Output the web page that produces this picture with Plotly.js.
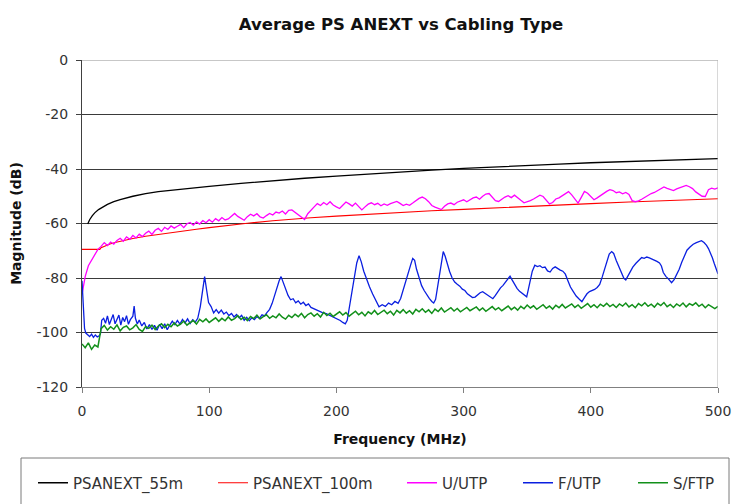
<!DOCTYPE html>
<html>
<head>
<meta charset="utf-8">
<script src="https://cdn.plot.ly/plotly-3.0.1.min.js"></script>
<style>html,body{margin:0;padding:0;background:#fff;}#chart{width:732px;height:504px;}</style>
</head>
<body>
<div id="chart"></div>
<script>
// ---- data ----
const seriesNames = ["PSANEXT_55m", "PSANEXT_100m", "U/UTP", "F/UTP", "S/FTP"];

const psanext55Freq = [4.5,6,8,10,13,16,20,25,30,40,50,60,75,90,100,125,150,175,200,225,250,275,300,325,350,375,400,425,450,475,500];
const psanext55Db = [-60.2,-58.6,-57.2,-56.1,-54.9,-54.0,-53.0,-52.0,-51.2,-50.0,-49.0,-48.3,-47.5,-46.8,-46.4,-45.3,-44.3,-43.4,-42.6,-41.8,-41.1,-40.4,-39.8,-39.2,-38.7,-38.2,-37.7,-37.3,-36.9,-36.5,-36.2];

const psanext100Freq = [0,14,15,18,22,26,30,35,40,50,60,75,90,100,115,130,150,165,180,200,225,250,275,300,330,360,400,430,460,500];
const psanext100Db = [-69.5,-69.5,-68.9,-68.2,-67.5,-67.0,-66.5,-66.0,-65.5,-64.7,-64.0,-63.0,-62.1,-61.5,-60.6,-59.9,-59.0,-58.4,-57.9,-57.3,-56.6,-55.9,-55.3,-54.8,-54.1,-53.5,-52.7,-52.1,-51.6,-50.9];

// U/UTP, sampled every 2.5 MHz from 0 MHz
const uutpStep = 2.5;
const uutpDb = [-86,-79.5,-75.5,-73.6,-71.2,-69.5,-68.4,-67.0,-68.1,-66.8,-67.6,-66.2,-65.4,-66.5,-64.9,-65.8,-64.4,-65.3,-63.9,-64.8,
-63.6,-62.8,-64.0,-62.5,-61.8,-62.9,-61.4,-62.2,-60.9,-61.7,-61.0,-60.3,-61.5,-60.1,-59.6,-60.6,-59.4,-60.2,-58.9,-59.7,
-58.6,-59.5,-58.2,-59.0,-57.8,-58.7,-58.3,-57.2,-56.3,-57.4,-58.1,-58.8,-57.5,-56.6,-57.2,-56.4,-57.6,-58.0,-57.1,-56.3,
-56.9,-55.8,-56.2,-55.4,-56.5,-55.2,-55.0,-55.9,-56.8,-57.9,-58.5,-56.4,-55.3,-53.9,-52.7,-53.4,-52.3,-53.1,-52.0,-53.2,
-53.9,-54.5,-53.3,-52.1,-52.8,-53.6,-52.5,-53.8,-55.0,-53.9,-52.9,-52.4,-53.1,-52.6,-53.5,-52.8,-53.3,-52.7,-52.2,-51.9,
-52.6,-53.4,-52.9,-53.3,-52.5,-51.6,-50.8,-50.3,-50.9,-52.0,-53.4,-54.0,-54.6,-54.9,-53.7,-52.8,-52.5,-53.1,-52.2,-51.7,
-51.3,-52.0,-51.2,-50.6,-50.3,-51.1,-50.0,-49.2,-49.0,-50.4,-51.6,-51.9,-51.0,-50.3,-49.8,-50.5,-49.6,-50.4,-51.5,-52.4,
-52.1,-51.6,-51.0,-50.2,-49.6,-50.1,-51.3,-52.8,-52.3,-51.0,-50.6,-49.8,-49.0,-48.3,-49.5,-51.2,-52.5,-50.4,-48.2,-48.9,
-50.1,-51.3,-50.6,-49.7,-48.9,-48.2,-47.6,-47.9,-48.7,-48.4,-49.1,-48.6,-49.3,-51.6,-52.0,-51.7,-51.1,-50.3,-49.6,-49.0,
-48.6,-47.9,-47.0,-46.6,-47.1,-47.5,-47.9,-47.3,-46.8,-46.3,-46.0,-46.5,-47.2,-48.4,-49.3,-50.0,-50.1,-47.6,-47.0,-47.4,
-46.9];

const futpFreq = [0,0.5,1,2,3,4.5,6,7.5,9,10.5,12,13.5,14.5,15.5,17,18.5,20,21.5,23,24.5,26,27.5,29,30.5,32,33.5,35,36.5,38,40,41,42,43.5,45,47,49,51,53,55,57,59,61,63,65,67,69,71,73,75,77,79,81,83,85,87,89,91,93,94.5,96.4,98,99.5,101.5,103.5,105.5,107.5,109.5,111.5,113.5,115.5,117.5,119.5,121.5,123.5,125.5,127.5,129.5,131.5,133.5,135.5,137.5,139.5,141.5,143.5,145.5,147.5,149.5,151.5,153.5,155,156.5,158,160,162,164,166,168,170,172,174,176,178,180,183,186,189,192,195,198,201,203,205,207,208.5,210,212,214,216,217.8,219.5,221.5,223.5,226,228.5,231,233.5,236,238.5,241,243.5,246,248.5,250.5,252.5,254.5,256.5,258.5,260,261.5,263,265,267,269,271,273,275,276.5,278,279.5,281,282.5,284,285.5,287,289,291,293,295,297,299,301,303,305,307,309,311,313,315,317,319,321,323,325,327,329,331,333,335,336.5,338,340,342,344,346,348,349.6,351,352.5,354,356,358,360,362,364,366,368,370,372,374,376,378,380,382,384,386,388.5,391,393,395,397,399,401,403,405,407,409,411,413,414.5,416.4,418,420,422,424,426,427.5,429,431,433,435.5,438,440,442,444,446,448,450,452,454,455.5,457,459,461,463.5,465.5,467.5,469.5,471.5,473.5,475.6,478,480.5,483,485,487,489,491,492.5,494,495.5,497,498.5,500];
const futpDb = [-81,-86,-93,-98.5,-100.2,-100.8,-101.5,-100.6,-101.8,-100.9,-101.6,-101.2,-100.5,-95.5,-94.8,-96.6,-93.9,-97.1,-95.2,-93.4,-96.8,-95.0,-93.6,-97.3,-94.5,-96.0,-93.8,-97.0,-95.3,-94.0,-90.3,-94.8,-96.9,-95.4,-97.6,-96.3,-98.7,-97.1,-98.9,-97.4,-99.2,-97.0,-98.6,-96.8,-99.0,-97.3,-95.8,-97.1,-95.6,-96.9,-95.2,-96.5,-95.0,-96.7,-95.3,-96.2,-94.8,-90.5,-85.0,-79.5,-84.5,-89.0,-90.5,-92.8,-91.6,-92.9,-91.8,-93.2,-92.5,-93.8,-93.0,-94.3,-93.4,-94.6,-93.7,-95.5,-94.4,-95.7,-94.6,-95.3,-94.2,-94.8,-93.5,-93.9,-92.6,-91.5,-89.3,-86.0,-83.2,-81.0,-79.5,-81.5,-84.2,-86.4,-88.0,-87.6,-89.1,-88.4,-89.6,-88.9,-90.1,-89.5,-90.8,-91.5,-92.0,-92.7,-93.1,-93.8,-94.2,-94.9,-95.6,-96.3,-96.8,-95.5,-91.5,-85.5,-79.5,-74.5,-71.8,-74.0,-77.5,-80.2,-83.2,-85.9,-88.3,-90.6,-89.8,-90.4,-89.2,-89.8,-88.6,-89.3,-87.5,-84.6,-81.3,-77.9,-75.0,-72.8,-73.5,-76.8,-80.3,-82.8,-84.6,-86.2,-87.5,-88.6,-89.2,-87.8,-83.5,-77.8,-73.2,-70.3,-72.0,-74.8,-77.6,-80.0,-81.5,-82.3,-83.0,-84.1,-84.6,-85.8,-86.4,-87.2,-87.0,-86.1,-85.4,-85.0,-85.6,-86.5,-87.0,-87.6,-86.4,-85.0,-83.6,-82.7,-81.6,-80.2,-79.3,-80.6,-82.4,-83.8,-84.9,-85.6,-86.3,-86.9,-84.0,-80.2,-77.5,-75.3,-75.8,-75.5,-76.2,-76.0,-77.4,-77.8,-76.5,-75.9,-76.6,-77.1,-77.5,-78.6,-81.0,-83.3,-84.8,-86.6,-87.8,-88.7,-87.2,-85.8,-85.0,-84.6,-84.2,-83.5,-82.4,-79.6,-76.2,-73.1,-71.2,-70.3,-71.0,-73.6,-76.0,-78.2,-80.1,-80.7,-79.5,-77.4,-76.0,-74.6,-73.3,-72.5,-72.8,-72.3,-72.6,-73.0,-73.2,-73.9,-74.5,-75.6,-78.0,-79.4,-80.3,-81.7,-80.6,-78.8,-76.8,-74.2,-71.9,-69.8,-68.6,-67.6,-67.0,-66.7,-66.3,-67.0,-68.0,-69.2,-70.6,-72.5,-74.6,-76.6,-78.5];

// S/FTP, sampled every 2.5 MHz from 0 MHz
const sftpStep = 2.5;
const sftpDb = [-104.2,-105.6,-103.8,-106.2,-104.6,-105.3,-98.6,-97.4,-99.1,-97.9,-98.8,-97.2,-99.4,-98.1,-97.6,-99.0,-98.3,-97.1,-98.9,-99.6,
-97.8,-98.5,-97.3,-98.9,-97.6,-96.8,-98.2,-97.0,-97.9,-96.5,-97.6,-96.9,-95.8,-97.3,-96.4,-95.6,-96.9,-95.2,-96.1,-95.0,
-96.3,-95.4,-94.6,-95.9,-94.8,-95.7,-94.3,-95.5,-94.9,-93.8,-95.2,-94.4,-95.6,-94.1,-94.9,-93.6,-95.0,-94.2,-93.5,-94.8,
-93.9,-94.6,-93.2,-94.4,-95.1,-93.7,-94.5,-93.3,-94.2,-93.0,-94.6,-93.4,-92.8,-94.0,-93.1,-94.3,-92.6,-93.8,-92.9,-94.1,
-93.3,-92.4,-93.6,-92.7,-94.0,-93.1,-92.2,-93.5,-92.6,-93.9,-92.4,-93.2,-91.9,-93.4,-92.5,-91.8,-93.1,-92.2,-93.6,-91.9,
-92.8,-91.6,-92.9,-92.0,-93.2,-91.5,-92.4,-91.3,-92.6,-91.7,-93.0,-91.4,-92.3,-91.0,-92.5,-91.6,-90.9,-92.1,-91.2,-92.4,
-91.5,-90.8,-92.0,-91.3,-90.6,-91.9,-91.0,-92.2,-91.4,-90.5,-91.7,-90.9,-92.0,-91.1,-90.3,-91.6,-90.7,-91.8,-90.4,-91.3,
-89.9,-91.0,-90.2,-91.5,-90.6,-89.8,-91.1,-90.3,-91.4,-90.0,-90.9,-89.7,-91.0,-90.2,-89.5,-90.8,-89.9,-91.1,-90.1,-89.4,
-90.7,-89.8,-90.9,-89.6,-90.4,-89.3,-90.5,-89.7,-90.8,-89.5,-90.3,-89.2,-90.6,-89.8,-90.9,-89.4,-90.2,-89.1,-90.4,-89.6,
-90.7,-89.3,-90.1,-89.0,-90.5,-89.7,-90.8,-89.5,-90.3,-89.2,-90.6,-89.4,-90.0,-89.1,-90.4,-89.6,-90.9,-89.8,-90.5,-91.2,
-90.4];

const xTickVals = [0,100,200,300,400,500];
const yTickVals = [-120,-100,-80,-60,-40,-20,0];

const seriesColors = ["#000000", "#ff0000", "#ff00ff", "#0a1fe0", "#12901a"];

// ---- build the figure ----
const uutpFreq = uutpDb.map((_, i) => i * uutpStep);
const sftpFreq = sftpDb.map((_, i) => i * sftpStep);

const xs = [psanext55Freq, psanext100Freq, uutpFreq, futpFreq, sftpFreq];
const ys = [psanext55Db, psanext100Db, uutpDb, futpDb, sftpDb];
const widths = [1.3, 1.1, 1.3, 1.3, 1.5];
const legendIds = ["legend", "legend2", "legend3", "legend4", "legend5"];
const legendLinePx = [38, 218, 407, 523, 638];

const PL = 82, PR = 718, PT = 60, PB = 387;
const px2paperX = p => (p - PL) / (PR - PL);
const px2paperY = p => (PB - p) / (PB - PT);

const traces = seriesNames.map((n, i) => ({
  type: "scatter", mode: "lines", name: n,
  x: xs[i], y: ys[i],
  line: {color: seriesColors[i], width: widths[i]},
  legend: legendIds[i], hoverinfo: "skip"
}));

const font = "DejaVu Sans, Liberation Sans, Arial, sans-serif";
const layout = {
  width: 732, height: 504,
  margin: {l: PL, r: 732 - PR, t: PT, b: 504 - PB, autoexpand: false},
  paper_bgcolor: "#ffffff", plot_bgcolor: "#ffffff",
  font: {family: font, color: "#222"},
  title: {text: "<b>Average PS ANEXT vs Cabling Type</b>", font: {size: 16.5, color: "#111", family: font},
          x: 401 / 732, xanchor: "center", y: 1 - 24 / 504, yanchor: "middle"},
  xaxis: {
    range: [0, 500], tickvals: xTickVals, ticktext: xTickVals.map(String),
    showgrid: false, zeroline: false, showline: true, linecolor: "#808080", linewidth: 1,
    ticks: "outside", ticklen: 5, tickcolor: "#808080", ticklabelstandoff: 6,
    tickfont: {size: 14, color: "#333"},
    title: {text: "<b>Frequency (MHz)</b>", font: {size: 14, color: "#111"}, standoff: 16}
  },
  yaxis: {
    range: [-120, 0], tickvals: yTickVals, ticktext: yTickVals.map(String),
    showgrid: true, gridcolor: "#3a3a3a", gridwidth: 1, zeroline: false,
    showline: true, linecolor: "#404040", linewidth: 1,
    ticks: "outside", ticklen: 5, tickcolor: "#404040", ticklabelstandoff: 5,
    tickfont: {size: 14, color: "#333"},
    title: {text: "<b>Magnitude (dB)</b>", font: {size: 14, color: "#111"}, standoff: 11}
  },
  showlegend: true,
  shapes: [
    {type: "line", xref: "x", yref: "y", x0: 0, x1: 500, y0: 0, y1: 0, line: {color: "#909090", width: 1}},
    {type: "line", xref: "x", yref: "y", x0: 500, x1: 500, y0: -120, y1: 0, line: {color: "#b0b0b0", width: 1}},
    {type: "rect", xref: "paper", yref: "paper", x0: px2paperX(21), x1: px2paperX(729),
     y0: px2paperY(458), y1: px2paperY(510), line: {color: "#7a7a7a", width: 1}, fillcolor: "rgba(0,0,0,0)"}
  ]
};
legendIds.forEach((id, i) => {
  layout[id] = {
    orientation: "h", x: px2paperX(legendLinePx[i] - 5), xanchor: "left",
    y: px2paperY(483), yanchor: "middle",
    bgcolor: "rgba(0,0,0,0)", borderwidth: 0,
    font: {size: 15, color: "#333", family: font}
  };
});

Plotly.newPlot("chart", traces, layout, {staticPlot: true, displayModeBar: false});
</script>
</body>
</html>
